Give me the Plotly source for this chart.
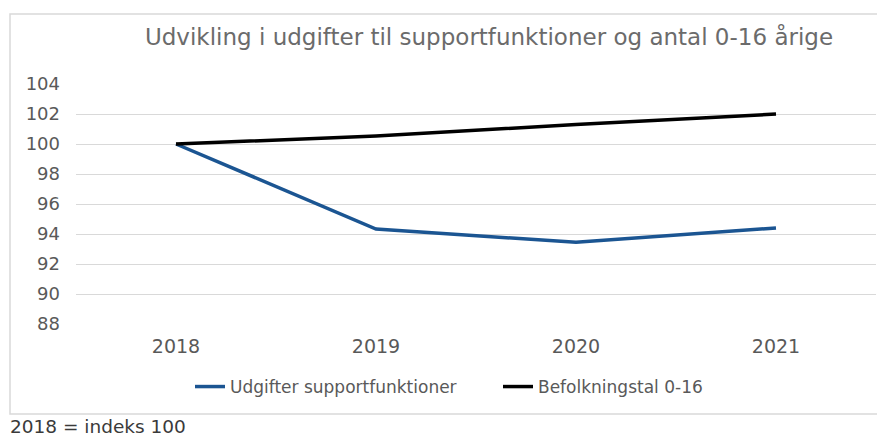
import plotly.graph_objects as go

years = ["2018", "2019", "2020", "2021"]
udgifter = [100.0, 94.33, 93.45, 94.4]
befolkning = [100.0, 100.53, 101.3, 102.0]
y_ticks = [88, 90, 92, 94, 96, 98, 100, 102, 104]

# page body has an 8px margin; work in screen pixels and subtract it
OFF = 8
W, H = 885 - OFF, 437 - OFF
PL, PR, PT, PB = 76, 876, 84, 324  # plot area in screen pixels
L = PL - OFF
T = PT - OFF
R = W - (PR - OFF)
B = H - (PB - OFF)
pw, ph = PR - PL, PB - PT

def px(x):
    return (x - PL) / pw

def py(y):
    return (PB - y) / ph

sans = "DejaVu Sans, Verdana, sans-serif"

fig = go.Figure()
fig.add_trace(go.Scatter(x=years, y=udgifter, mode="lines", name="Udgifter supportfunktioner",
                         line=dict(color="#1B5592", width=3.5)))
fig.add_trace(go.Scatter(x=years, y=befolkning, mode="lines", name="Befolkningstal 0-16",
                         line=dict(color="#000000", width=3.5)))

fig.update_layout(
    width=W, height=H,
    margin=dict(l=L, r=R, t=T, b=B, pad=0),
    paper_bgcolor="white", plot_bgcolor="white",
    title=dict(text="Udvikling i udgifter til supportfunktioner og antal 0-16 årige",
               x=px(489), xanchor="center", xref="paper",
               y=1 - (37 - OFF) / H, yref="container", yanchor="middle",
               font=dict(family=sans, size=23, color="#6b6b6b")),
    xaxis=dict(type="category", range=[-0.5, 3.5], showgrid=False, showline=False,
               ticks="", ticklabelstandoff=9,
               tickfont=dict(family=sans, size=19, color="#595959")),
    yaxis=dict(range=[88, 104], tickvals=y_ticks, showgrid=True, gridcolor="#D9D9D9",
               gridwidth=1, zeroline=False, showline=False, ticks="", ticklabelstandoff=15,
               tickfont=dict(family=sans, size=18, color="#595959")),
    legend=dict(orientation="h", x=px(190), xanchor="left", y=py(387), yanchor="middle",
                font=dict(family=sans, size=17, color="#595959"),
                entrywidth=263, entrywidthmode="pixels", tracegroupgap=0),
    showlegend=True,
    shapes=[dict(type="rect", xref="paper", yref="paper",
                 x0=px(10), x1=px(895), y0=py(414), y1=py(14),
                 line=dict(color="#D9D9D9", width=1.5), fillcolor="rgba(0,0,0,0)", layer="below")],
    annotations=[dict(text="2018 = indeks 100", xref="paper", yref="paper",
                      x=px(10), y=py(426.5), xanchor="left", yanchor="middle", showarrow=False,
                      xshift=-2,
                      font=dict(family=sans, size=18.5, color="#3a3a3a"))],
)

fig.write_html("out.html")
